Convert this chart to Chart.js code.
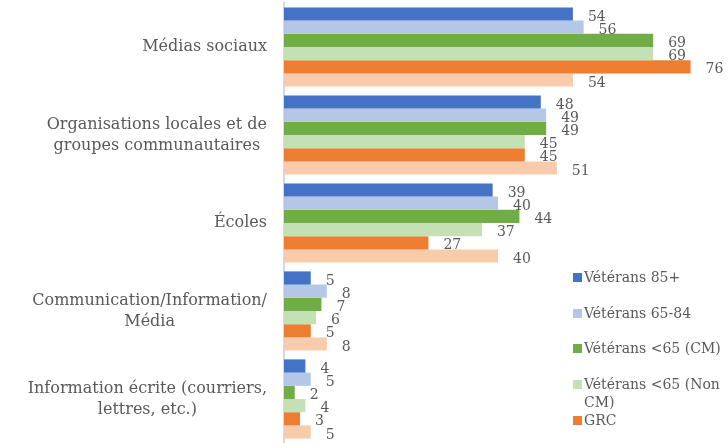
<!DOCTYPE html>
<html lang="fr">
<head>
    <meta charset="UTF-8">
    <title>Sources d'information</title>
    <script src="https://cdn.jsdelivr.net/npm/chart.js"></script>
    <style>
        html, body {
            margin: 0;
            padding: 0;
            background: #ffffff;
            overflow: hidden;
        }
        .wrap {
            position: relative;
            width: 728px;
            height: 443px;
        }
        #legend {
            position: absolute;
            left: 573px;
            top: 268px;
            width: 152px;
            font-family: "DejaVu Serif", Georgia, serif;
            font-size: 14px;
            color: #595959;
        }
        .legend-item {
            display: flex;
            align-items: flex-start;
            min-height: 35.5px;
            line-height: 18px;
        }
        .legend-box {
            flex: 0 0 9px;
            height: 9px;
            margin-top: 5px;
            margin-right: 2px;
        }
    </style>
</head>
<body>
    <div class="wrap">
        <canvas id="chart" width="728" height="443"></canvas>
        <div id="legend"></div>
    </div>

    <script>
        // ---------- données ----------
        const categories = [
            ['Médias sociaux'],
            ['Organisations locales et de', 'groupes communautaires'],
            ['Écoles'],
            ['Communication/Information/', 'Média'],
            ['Information écrite (courriers,', 'lettres, etc.)']
        ];
        const seriesNames = [
            'Vétérans 85+',
            'Vétérans 65-84',
            'Vétérans <65 (CM)',
            'Vétérans <65 (Non CM)',
            'GRC',
            'Population canadienne'
        ];
        const seriesColors = ['#4472C4', '#B4C7E7', '#70AD47', '#C5E0B4', '#ED7D31', '#F8CBAD'];

        const veterans85 = [54, 48, 39, 5, 4];
        const veterans6584 = [56, 49, 40, 8, 5];
        const veteransCM = [69, 49, 44, 7, 2];
        const veteransNonCM = [69, 45, 37, 6, 4];
        const grc = [76, 45, 27, 5, 3];
        const population = [54, 51, 40, 8, 5];

        const seriesValues = [veterans85, veterans6584, veteransCM, veteransNonCM, grc, population];

        const TEXT_COLOR = '#595959';
        const FONT_FAMILY = '"DejaVu Serif", Georgia, serif';

        // ---------- étiquettes des catégories (blocs alignés à droite, lignes centrées) ----------
        const categoryLabels = {
            id: 'categoryLabels',
            afterDraw(chart) {
                const ctx = chart.ctx;
                const yScale = chart.scales.y;
                const right = 267;
                const lineH = 21;
                ctx.save();
                ctx.font = '16px ' + FONT_FAMILY;
                ctx.fillStyle = TEXT_COLOR;
                ctx.textAlign = 'center';
                ctx.textBaseline = 'middle';
                categories.forEach((lines, i) => {
                    const y = yScale.getPixelForValue(i);
                    const w = Math.max(...lines.map(l => ctx.measureText(l).width));
                    const cx = right - w / 2;
                    const top = y - (lines.length - 1) * lineH / 2;
                    lines.forEach((l, j) => ctx.fillText(l, cx, top + j * lineH));
                });
                ctx.restore();
            }
        };

        // ---------- valeurs à droite des barres ----------
        const valueLabels = {
            id: 'valueLabels',
            afterDatasetsDraw(chart) {
                const ctx = chart.ctx;
                ctx.save();
                ctx.font = '14px ' + FONT_FAMILY;
                ctx.fillStyle = TEXT_COLOR;
                ctx.textAlign = 'left';
                ctx.textBaseline = 'middle';
                chart.data.datasets.forEach((ds, di) => {
                    chart.getDatasetMeta(di).data.forEach((bar, i) => {
                        ctx.fillText(ds.data[i], bar.x + 15, bar.y + 3);
                    });
                });
                ctx.restore();
            }
        };

        const chart = new Chart(document.getElementById('chart'), {
            type: 'bar',
            data: {
                labels: categories.map(c => c.join(' ')),
                datasets: seriesNames.map((name, i) => ({
                    label: name,
                    data: seriesValues[i],
                    backgroundColor: seriesColors[i],
                    borderWidth: 0,
                    categoryPercentage: 0.9,
                    barPercentage: 1.0
                }))
            },
            options: {
                indexAxis: 'y',
                responsive: false,
                animation: false,
                layout: {
                    padding: { left: 0, right: 16, top: 3, bottom: 0 }
                },
                plugins: {
                    legend: { display: false },
                    tooltip: { enabled: false }
                },
                scales: {
                    x: {
                        display: false,
                        min: 0,
                        max: 80
                    },
                    y: {
                        grid: { display: false },
                        border: { display: true, color: '#D9D9D9', width: 2 },
                        ticks: { display: false },
                        afterFit(scale) { scale.width = 284; }
                    }
                }
            },
            plugins: [categoryLabels, valueLabels]
        });

        // ---------- légende ----------
        const legend = document.getElementById('legend');
        seriesNames.forEach((name, i) => {
            const item = document.createElement('div');
            item.className = 'legend-item';
            const box = document.createElement('span');
            box.className = 'legend-box';
            box.style.background = seriesColors[i];
            const txt = document.createElement('span');
            txt.textContent = name;
            item.appendChild(box);
            item.appendChild(txt);
            legend.appendChild(item);
        });
    </script>
</body>
</html>
